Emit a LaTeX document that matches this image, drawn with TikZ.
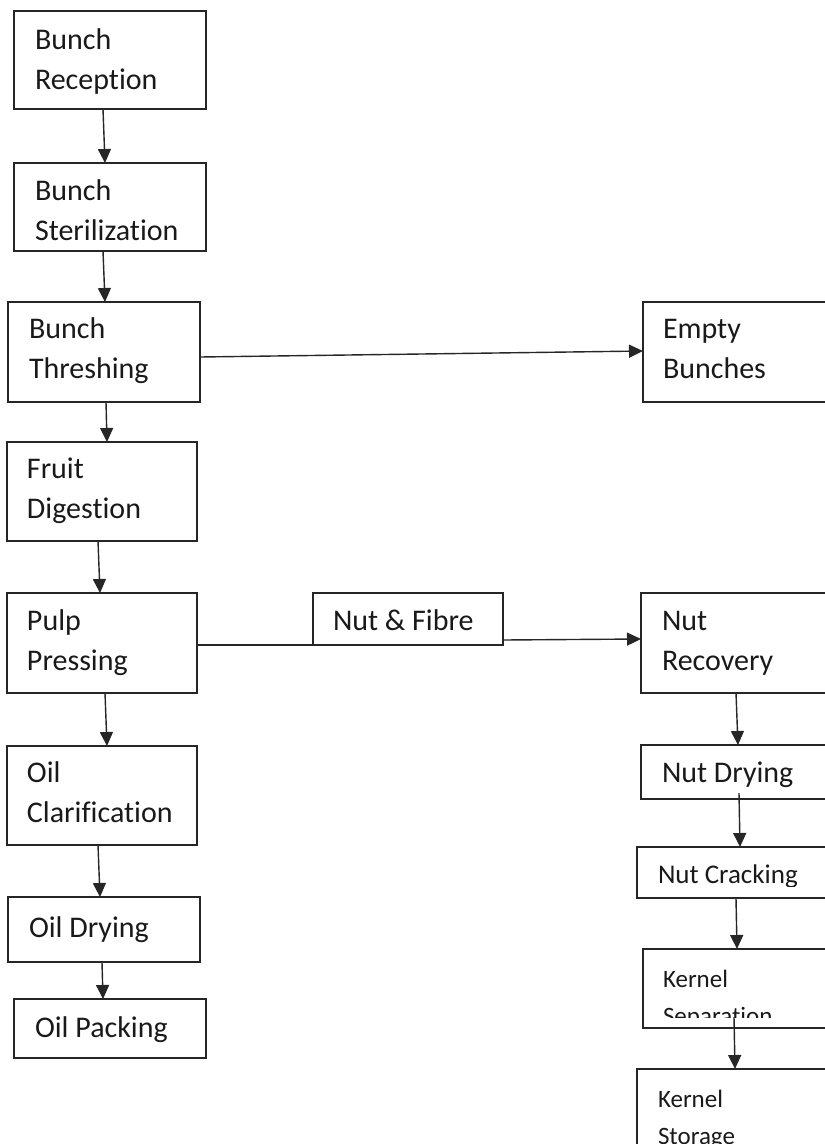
\documentclass[tikz,border=0pt]{standalone}
\usepackage{fontspec}
\setmainfont{Carlito}[Ligatures=NoCommon]
\usetikzlibrary{arrows.meta}
\begin{document}
\begin{tikzpicture}[x=1pt,y=-1pt,
  box/.style={draw=black!85, line width=1.4pt, rectangle, inner sep=0pt, outer sep=0pt, anchor=north west},
  lbl/.style={inner sep=0pt, outer sep=0pt, anchor=base west, font=\fontsize{30}{40}\selectfont, text=black!90},
  smalllbl/.style={lbl, font=\fontsize{25}{37}\selectfont},
  midlbl/.style={lbl, font=\fontsize{27}{37}\selectfont},
  arr/.style={draw=black!85, line width=1.4pt, -{Triangle[length=14pt,width=13pt]}},
  ln/.style={draw=black!85, line width=1.4pt}]
\useasboundingbox (0,0) rectangle (825,1144);
\clip (0,0) rectangle (825,1144);
\newcommand\twol[2]{\begin{tabular}[t]{@{}l@{}}#1\\#2\end{tabular}}
% left column boxes
\node[box, minimum width=192pt, minimum height=98pt] (rec) at (14,11) {};
\node[box, minimum width=192pt, minimum height=88pt] (ster) at (14,163) {};
\node[box, minimum width=192pt, minimum height=100pt] (thr) at (8,302) {};
\node[box, minimum width=190pt, minimum height=99pt] (dig) at (7,442) {};
\node[box, minimum width=190pt, minimum height=100pt] (pre) at (7,593) {};
\node[box, minimum width=190pt, minimum height=99pt] (cla) at (7,746) {};
\node[box, minimum width=192pt, minimum height=65pt] (dry) at (8,897) {};
\node[box, minimum width=192pt, minimum height=59pt] (pack) at (14,999) {};
% right column boxes
\node[box, minimum width=207pt, minimum height=100pt] (empty) at (643,302) {};
\node[box, minimum width=190pt, minimum height=52pt] (nf) at (313,593) {};
\node[box, minimum width=209pt, minimum height=100pt] (nrec) at (641,593) {};
\node[box, minimum width=209pt, minimum height=54pt] (ndry) at (641,745) {};
\node[box, minimum width=213pt, minimum height=51pt] (ncr) at (637,847) {};
\node[box, minimum width=207pt, minimum height=79pt] (ksep) at (643,949) {};
\node[box, minimum width=213pt, minimum height=131pt] (ksto) at (637,1069) {};
% labels
\node[lbl] (recT) at (35,49) {\twol{Bunch}{Reception}};
\node[lbl] (sterT) at (35,200) {\twol{Bunch}{Sterilization}};
\node[lbl] (thrT) at (29,338) {\twol{Bunch}{Threshing}};
\node[lbl] (digT) at (27,478) {\twol{Fruit}{Digestion}};
\node[lbl] (preT) at (27,630) {\twol{Pulp}{Pressing}};
\node[lbl] (claT) at (27,782) {\twol{Oil}{Clarification}};
\node[lbl] (dryT) at (29,937) {Oil Drying};
\node[lbl] (packT) at (35,1037) {Oil Packing};
\node[lbl] (emptyT) at (663,338) {\twol{Empty}{Bunches}};
\node[lbl] (nfT) at (333,630) {Nut \& Fibre};
\node[lbl] (nrecT) at (662,630) {\twol{Nut}{Recovery}};
\node[lbl] (ndryT) at (662,782) {Nut Drying};
\begin{scope}
\clip (ncr.north west) rectangle ([yshift=12pt]ncr.south east);
\node[midlbl] (ncrT) at (658,883) {Nut Cracking};
\end{scope}
\begin{scope}
\clip (ksep.north west) rectangle ([yshift=11pt]ksep.south east);
\node[smalllbl] (ksepT) at (663,987) {\twol{Kernel}{Separation}};
\end{scope}
\node[smalllbl] (kstoT) at (658,1107) {\twol{Kernel}{Storage}};
% connectors, left column
\draw[arr] ([xshift=-7pt]rec.south) -- ([xshift=-5pt]ster.north);
\draw[arr] ([xshift=-7pt]ster.south) -- ([xshift=1pt]thr.north);
\draw[arr] ([xshift=2pt]thr.south) -- ([xshift=5pt]dig.north);
\draw[arr] ([xshift=-4pt]dig.south) -- ([xshift=-2pt]pre.north);
\draw[arr] ([xshift=3pt]pre.south) -- ([xshift=5pt]cla.north);
\draw[arr] ([xshift=-4pt]cla.south) -- ([xshift=-4pt]dry.north);
\draw[arr] ([xshift=-2pt]dry.south) -- ([xshift=-7pt]pack.north);
% side branches
\draw[arr] ([yshift=-5pt]thr.east) -- ([yshift=1pt]empty.west);
\draw[ln] ([yshift=-2pt]pre.east) -- (nf.south west);
\draw[arr] ([yshift=-21pt]nf.east) -- ([yshift=4pt]nrec.west);
% right column
\draw[arr] ([xshift=-9.5pt]nrec.south) -- ([xshift=-7.5pt]ndry.north);
\draw[arr] ([xshift=-6.5pt,yshift=6pt]ndry.south) -- ([xshift=-3.5pt]ncr.north);
\draw[arr] ([xshift=-7.5pt]ncr.south) -- ([xshift=-9.5pt]ksep.north);
\draw[arr] ([xshift=-12.5pt,yshift=11pt]ksep.south) -- ([xshift=-8.5pt]ksto.north);
\end{tikzpicture}
\end{document}
